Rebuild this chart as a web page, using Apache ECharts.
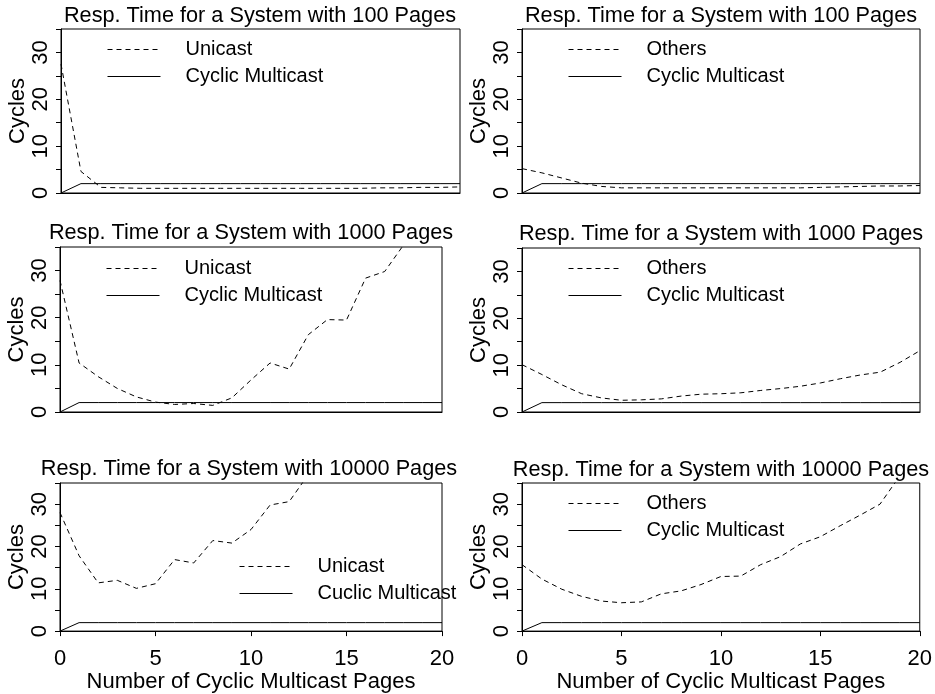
<!DOCTYPE html>
<html><head><meta charset="utf-8">
<script src="https://cdn.jsdelivr.net/npm/echarts@6/dist/echarts.min.js"></script>
<style>html,body{margin:0;padding:0;background:#fff}#c{width:935px;height:694px}</style>
</head><body><div id="c"></div>
<script>
// ---- data ----
const pages = [0,1,2,3,4,5,6,7,8,9,10,11,12,13,14,15,16,17,18,19,20];
const xTickValues = [0,5,10,15,20];
const yTickLabels = [0,10,20,30];
const titles = [
  "Resp. Time for a System with 100 Pages",
  "Resp. Time for a System with 1000 Pages",
  "Resp. Time for a System with 10000 Pages"
];
const xAxisTitle = "Number of Cyclic Multicast Pages";
const yAxisTitle = "Cycles";

const unicast100   = [27.5,4.6,1.2,1.1,1.0,1.0,1.0,1.0,1.0,1.0,1.0,1.0,1.0,1.0,1.0,1.0,1.1,1.1,1.2,1.2,1.3];
const unicast1000  = [27.9,10.4,7.5,5.0,3.2,2.1,1.6,1.8,1.4,3.0,6.8,10.4,9.1,16.4,19.6,19.5,28.4,29.8,35.5,null,null];
const unicast10000 = [28.0,17.8,11.4,12.0,10.1,11.2,16.9,16.1,21.4,20.8,24.0,29.8,30.6,37.0,null,null,null,null,null,null,null];
const others100    = [5.2,4.3,3.2,2.1,1.4,1.1,1.1,1.1,1.1,1.1,1.1,1.1,1.1,1.1,1.1,1.2,1.3,1.4,1.5,1.5,1.6];
const others1000   = [10.1,8.0,5.8,3.9,3.0,2.5,2.6,2.8,3.4,3.8,3.9,4.1,4.6,5.0,5.5,6.2,7.1,7.9,8.5,10.6,13.1];
const others10000  = [15.7,12.3,9.9,8.2,7.1,6.7,6.9,8.8,9.5,11.0,12.9,13.0,15.7,17.6,20.6,22.3,24.9,27.4,30.0,36.7,null];
const cyclicMulticast = [0,2.0,2.0,2.0,2.0,2.0,2.0,2.0,2.0,2.0,2.0,2.0,2.0,2.0,2.0,2.0,2.0,2.0,2.0,2.0,2.0];

// ---- panels ----
const FONT = "'Liberation Sans', Arial, Helvetica, sans-serif";
const panels = [
  {grid:{left:61,top:29,width:399,height:164}, legend:{left:107,top:39}, tx:260, ty:16, title:titles[0], bottom:false, names:["Unicast","Cyclic Multicast"], d:unicast100},
  {grid:{left:60,top:247,width:382,height:165}, legend:{left:106,top:258}, tx:251, ty:233, title:titles[1], bottom:false, names:["Unicast","Cyclic Multicast"], d:unicast1000},
  {grid:{left:60,top:483,width:382,height:156}, legend:{left:239,top:556}, tx:249, ty:469, title:titles[2], bottom:true, names:["Unicast","Cuclic Multicast"], d:unicast10000},
  {grid:{left:522,top:29,width:398,height:164}, legend:{left:568,top:39}, tx:721, ty:16, title:titles[0], bottom:false, names:["Others","Cyclic Multicast"], d:others100},
  {grid:{left:522,top:248,width:398,height:164}, legend:{left:568,top:258}, tx:721, ty:234, title:titles[1], bottom:false, names:["Others","Cyclic Multicast"], d:others1000},
  {grid:{left:522,top:483,width:398,height:160}, legend:{left:568,top:493}, tx:721, ty:470, title:titles[2], bottom:true, names:["Others","Cyclic Multicast"], d:others10000}
];

const option = {
  backgroundColor:'#fff',
  animation:false,
  title:[], grid:[], xAxis:[], yAxis:[], legend:[], series:[]
};

panels.forEach((p,i)=>{
  option.title.push({
    text:p.title, left:p.tx, top:p.ty, textAlign:'center', textVerticalAlign:'middle', padding:0,
    textStyle:{fontFamily:FONT, fontSize:21.7, fontWeight:'normal', color:'#000'}
  });
  option.grid.push(Object.assign({show:true, borderColor:'#000', borderWidth:1, backgroundColor:'transparent', containLabel:false}, p.grid));
  option.xAxis.push({
    type:'value', gridIndex:i, min:0, max:20, interval:5,
    axisLine:{show:true, onZero:false, lineStyle:{color:'#000', width:1}},
    axisTick:{show:p.bottom, length:5, lineStyle:{color:'#000'}},
    axisLabel:{show:p.bottom, margin:17, fontFamily:FONT, fontSize:22, color:'#000',
      formatter:v=> xTickValues.includes(v) ? String(v) : ''},
    splitLine:{show:false},
    name:p.bottom ? xAxisTitle : '', nameLocation:'middle', nameGap:32,
    nameTextStyle:{fontFamily:FONT, fontSize:22, color:'#000'}
  });
  option.yAxis.push({
    type:'value', gridIndex:i, min:0, max:35, interval:5,
    axisLine:{show:true, lineStyle:{color:'#000', width:1}},
    axisTick:{show:true, length:5, lineStyle:{color:'#000'}},
    axisLabel:{show:true, rotate:90, margin:9, fontFamily:FONT, fontSize:22, color:'#000',
      formatter:v=> yTickLabels.includes(v) ? String(v) : ''},
    splitLine:{show:false},
    name:yAxisTitle, nameLocation:'middle', nameRotate:90, nameGap:27,
    nameTextStyle:{fontFamily:FONT, fontSize:22, color:'#000'}
  });
  option.legend.push({
    left:p.legend.left, top:p.legend.top, orient:'vertical', padding:0,
    itemWidth:53, itemHeight:21, itemGap:6, selectedMode:false,
    data:p.names,
    itemStyle:{opacity:0},
    lineStyle:{width:1},
    textStyle:{fontFamily:FONT, fontSize:20, color:'#000', lineHeight:21, padding:[0,0,0,20]}
  });
  option.series.push({
    name:p.names[0], type:'line', xAxisIndex:i, yAxisIndex:i, symbol:'none', clip:true,
    data:pages.map((x,k)=>[x,p.d[k]]),
    lineStyle:{color:'#000', width:1, type:[5,4]}, itemStyle:{color:'#000'}
  });
  option.series.push({
    name:p.names[1], type:'line', xAxisIndex:i, yAxisIndex:i, symbol:'none', clip:true,
    data:pages.map((x,k)=>[x,cyclicMulticast[k]]),
    lineStyle:{color:'#000', width:1, type:'solid'}, itemStyle:{color:'#000'}
  });
});

const chart = echarts.init(document.getElementById('c'), null, {renderer:'canvas'});
chart.setOption(option);
</script></body></html>
